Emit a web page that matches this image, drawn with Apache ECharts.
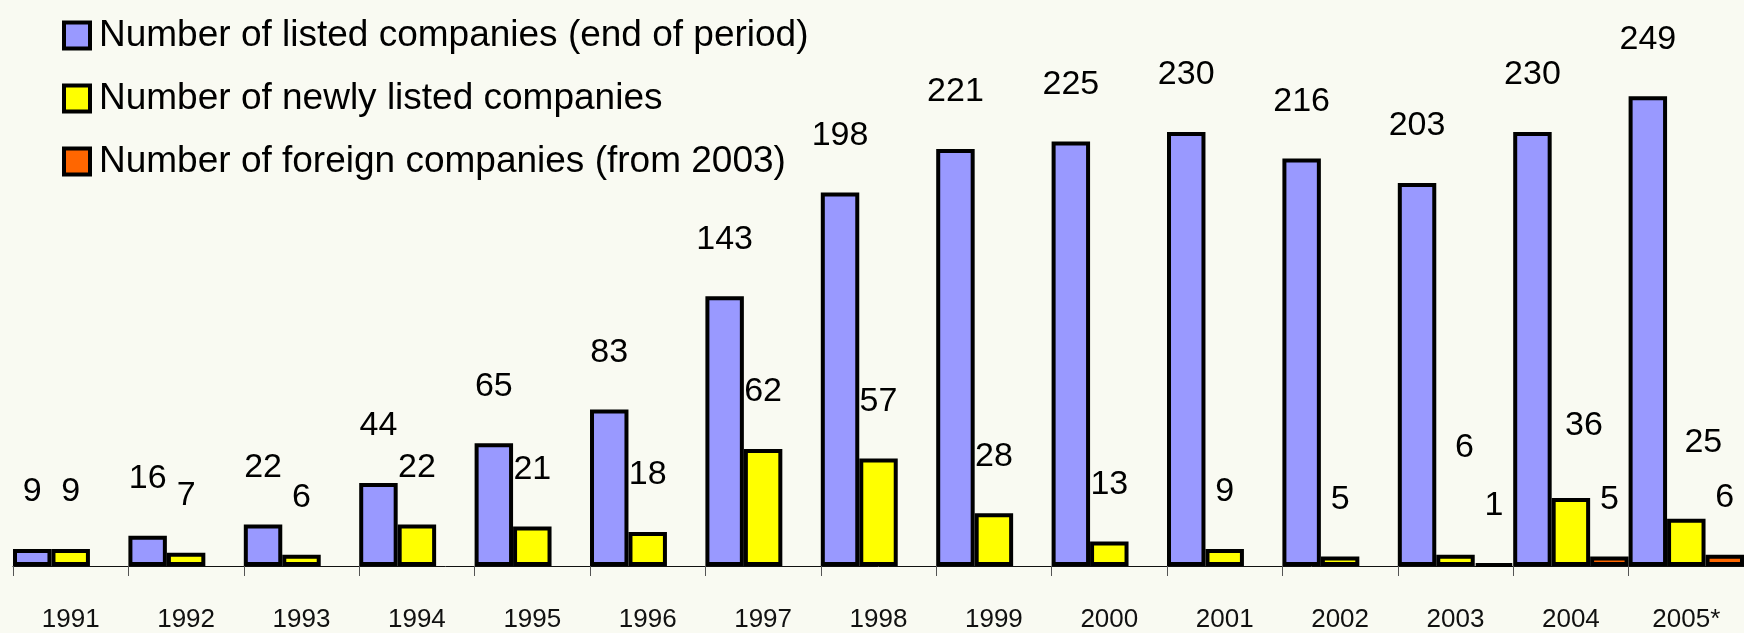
<!DOCTYPE html>
<html>
<head>
<meta charset="utf-8">
<script src="https://cdn.jsdelivr.net/npm/echarts@6/dist/echarts.min.js"></script>
<style>
  html, body { margin: 0; padding: 0; background: #f9faf2; }
  #chart { width: 1744px; height: 633px; }
</style>
</head>
<body>
<div id="chart"></div>
<script>
const categories = ['1991','1992','1993','1994','1995','1996','1997','1998','1999','2000','2001','2002','2003','2004','2005*'];
const listedCompanies = [9, 16, 22, 44, 65, 83, 143, 198, 221, 225, 230, 216, 203, 230, 249];
const newlyListed = [9, 7, 6, 22, 21, 18, 62, 57, 28, 13, 9, 5, 6, 36, 25];
const foreignCompanies = ['-', '-', '-', '-', '-', '-', '-', '-', '-', '-', '-', '-', 1, 5, 6];
const seriesNames = [
  'Number of listed companies (end of period)',
  'Number of newly listed companies',
  'Number of foreign companies (from 2003)'
];

const FONT = "'Liberation Sans', Arial, sans-serif";

const labelBase = {
  show: true,
  position: 'top',
  distance: 40,
  color: '#000',
  fontSize: 34,
  fontFamily: FONT
};

// a few labels in the original sit displaced from the bar centre
const newlyOffsets = { 12: [9, -50], 13: [13, -15], 14: [17, -19] };
const newlyData = newlyListed.map((v, i) => newlyOffsets[i]
  ? { value: v, label: { offset: newlyOffsets[i] } }
  : v);

const chart = echarts.init(document.getElementById('chart'), null, { renderer: 'canvas' });
chart.setOption({
  backgroundColor: '#f9faf2',
  animation: false,
  textStyle: { fontFamily: FONT },
  legend: {
    orient: 'vertical',
    left: 57,
    top: 12,
    itemWidth: 26,
    itemHeight: 26,
    itemGap: 26,
    icon: 'rect',
    itemStyle: { borderColor: '#000', borderWidth: 4 },
    textStyle: { fontSize: 37, color: '#000', fontFamily: FONT, padding: [0, 0, 0, 4] },
    data: seriesNames
  },
  grid: { left: 13, right: -5, top: 0, bottom: 67, containLabel: false },
  xAxis: {
    type: 'category',
    data: categories,
    boundaryGap: true,
    axisLine: { show: true, lineStyle: { color: '#111', width: 1 } },
    axisTick: { show: true, length: 10, lineStyle: { color: '#555' } },
    axisLabel: { margin: 41, fontSize: 26, color: '#111', fontFamily: FONT }
  },
  yAxis: {
    type: 'value',
    min: 0,
    max: 300,
    show: false,
    splitLine: { show: false }
  },
  series: [
    {
      name: seriesNames[0],
      type: 'bar',
      data: listedCompanies,
      barWidth: '33.33%',
      barGap: '0%',
      barCategoryGap: '0%',
      itemStyle: { color: '#9999ff', borderColor: '#000', borderWidth: 4 },
      label: labelBase
    },
    {
      name: seriesNames[1],
      type: 'bar',
      data: newlyData,
      barWidth: '33.33%',
      barGap: '0%',
      itemStyle: { color: '#ffff00', borderColor: '#000', borderWidth: 4 },
      label: labelBase
    },
    {
      name: seriesNames[2],
      type: 'bar',
      data: foreignCompanies,
      barWidth: '33.33%',
      barGap: '0%',
      itemStyle: { color: '#ff6600', borderColor: '#000', borderWidth: 4 },
      label: labelBase
    }
  ]
});
</script>
</body>
</html>
